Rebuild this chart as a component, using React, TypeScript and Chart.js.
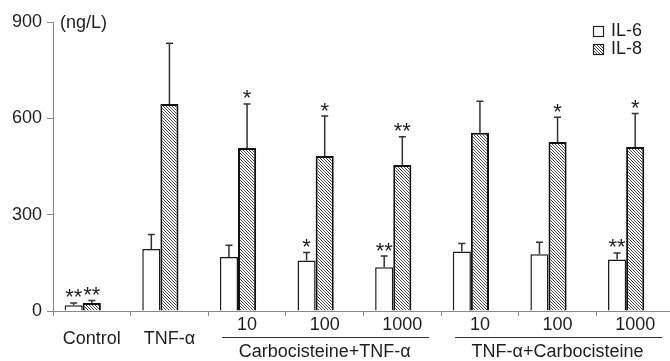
import React, { useEffect, useRef } from 'react';
import { Chart, registerables } from 'chart.js';
Chart.register(...registerables);

const categories = ['Control', 'TNF-α', '10', '100', '1000', '10', '100', '1000'];
const il6 = [18, 193, 168, 157, 136, 185, 177, 160];
const il6Err = [7, 45, 37, 25, 35, 25, 37, 21];
const il8 = [25, 645, 508, 483, 455, 555, 526, 511];
const il8Err = [8, 189, 137, 124, 88, 98, 77, 104];
const il6Stars = ['**', '', '', '*', '**', '', '', '**'];
const il8Stars = ['**', '', '*', '*', '**', '', '*', '*'];
const groupLabels = ['Carbocisteine+TNF-α', 'TNF-α+Carbocisteine'];
const groupFrom = [2, 5];
const groupTo = [4, 7];
const seriesNames = ['IL-6', 'IL-8'];
const yTicks = [0, 300, 600, 900];
const unitLabel = '(ng/L)';

const FONT = '"Liberation Sans", Arial, sans-serif';
const INK = '#1e1e1e';

function makeHatch(ctx: CanvasRenderingContext2D): CanvasPattern | string {
  const s = 3;
  const c = document.createElement('canvas');
  c.width = s;
  c.height = s;
  const g = c.getContext('2d');
  if (!g) return '#888';
  g.fillStyle = '#fff';
  g.fillRect(0, 0, s, s);
  g.strokeStyle = '#333';
  g.lineWidth = 0.9;
  g.beginPath();
  g.moveTo(-1, -1);
  g.lineTo(s + 1, s + 1);
  g.moveTo(-1, s - 1);
  g.lineTo(1, s + 1);
  g.moveTo(s - 1, -1);
  g.lineTo(s + 1, 1);
  g.stroke();
  return ctx.createPattern(c, 'repeat') || '#888';
}

function drawStar(ctx: CanvasRenderingContext2D, text: string, x: number, cy: number) {
  ctx.font = `22px ${FONT}`;
  ctx.textAlign = 'center';
  ctx.textBaseline = 'alphabetic';
  const m = ctx.measureText(text);
  const asc = m.actualBoundingBoxAscent;
  const desc = m.actualBoundingBoxDescent;
  const y = cy - (desc - asc) / 2;
  ctx.fillText(text, x, y);
}

const overlay = {
  id: 'overlay',
  afterDatasetsDraw(chart: any) {
    const ctx: CanvasRenderingContext2D = chart.ctx;
    const yScale = chart.scales.y;
    const series = [
      { vals: il6, errs: il6Err, stars: il6Stars, meta: chart.getDatasetMeta(0) },
      { vals: il8, errs: il8Err, stars: il8Stars, meta: chart.getDatasetMeta(1) },
    ];
    ctx.save();
    ctx.strokeStyle = '#333';
    ctx.fillStyle = INK;
    ctx.lineWidth = 1.5;
    series.forEach((s) => {
      s.vals.forEach((v, i) => {
        const bar = s.meta.data[i];
        const x = bar.x;
        const yTop = yScale.getPixelForValue(v);
        const yErr = yScale.getPixelForValue(v + s.errs[i]);
        ctx.beginPath();
        ctx.moveTo(x, yTop);
        ctx.lineTo(x, yErr);
        ctx.moveTo(x - 3.5, yErr);
        ctx.lineTo(x + 3.5, yErr);
        ctx.stroke();
        if (s.stars[i]) drawStar(ctx, s.stars[i], x, yErr - 9.5);
      });
    });
    ctx.restore();
  },
  afterDraw(chart: any) {
    const ctx: CanvasRenderingContext2D = chart.ctx;
    const xScale = chart.scales.x;
    const area = chart.chartArea;
    ctx.save();
    ctx.fillStyle = INK;
    ctx.font = `18px ${FONT}`;
    ctx.textAlign = 'center';
    ctx.textBaseline = 'alphabetic';
    const half = (xScale.getPixelForValue(1) - xScale.getPixelForValue(0)) / 2;
    categories.forEach((c, i) => {
      const x = xScale.getPixelForValue(i);
      const isGrouped = groupFrom.some((f, g) => i >= f && i <= groupTo[g]);
      ctx.fillText(c, x, isGrouped ? 330 : 344);
    });
    ctx.strokeStyle = '#333';
    ctx.lineWidth = 1;
    groupLabels.forEach((g, k) => {
      const left = xScale.getPixelForValue(groupFrom[k]) - half + 14;
      const right = xScale.getPixelForValue(groupTo[k]) + half - 12;
      ctx.beginPath();
      ctx.moveTo(left, 337.5);
      ctx.lineTo(right, 337.5);
      ctx.stroke();
      ctx.fillText(g, (xScale.getPixelForValue(groupFrom[k]) + xScale.getPixelForValue(groupTo[k])) / 2, 356.5);
    });
    // unit label
    ctx.textAlign = 'left';
    ctx.textBaseline = 'middle';
    ctx.fillText(unitLabel, area.left + 7, area.top + 1);
    // legend
    const bx = 593;
    const boxes = [26, 44];
    const fills = [chart.data.datasets[0].backgroundColor, chart.data.datasets[1].backgroundColor];
    seriesNames.forEach((n, k) => {
      ctx.fillStyle = fills[k];
      ctx.fillRect(bx, boxes[k], 10, 10);
      ctx.strokeStyle = '#222';
      ctx.lineWidth = 1.2;
      ctx.strokeRect(bx + 0.5, boxes[k] + 0.5, 10, 10);
      ctx.fillStyle = INK;
      ctx.font = `18px ${FONT}`;
      ctx.textAlign = 'left';
      ctx.textBaseline = 'middle';
      ctx.fillText(n, 611, boxes[k] + 5.5);
    });
    ctx.restore();
  },
};

export default function App() {
  const ref = useRef<HTMLCanvasElement | null>(null);
  useEffect(() => {
    const canvas = ref.current;
    if (!canvas) return;
    const ctx = canvas.getContext('2d');
    if (!ctx) return;
    const hatch = makeHatch(ctx);
    const chart = new Chart(canvas, {
      type: 'bar',
      data: {
        labels: categories,
        datasets: [
          { label: seriesNames[0], data: il6, backgroundColor: '#fff', borderColor: '#1a1a1a', borderWidth: 1.5 },
          { label: seriesNames[1], data: il8, backgroundColor: hatch as any, borderColor: '#111', borderWidth: 2 },
          { label: '', data: categories.map(() => null), backgroundColor: 'transparent' },
        ],
      },
      options: {
        responsive: false,
        animation: false,
        devicePixelRatio: 1,
        layout: { padding: { top: 22, right: 0, left: 0, bottom: 0 } },
        datasets: { bar: { categoryPercentage: 0.7, barPercentage: 1.0 } },
        plugins: { legend: { display: false }, tooltip: { enabled: false } },
        scales: {
          x: {
            grid: { display: true, drawOnChartArea: false, drawTicks: true, tickLength: 5, color: '#888', offset: true },
            border: { display: true, color: '#888', width: 1 },
            ticks: { display: false },
            afterFit: (s: any) => { s.height = 50; },
          },
          y: {
            min: 0,
            max: 900,
            afterBuildTicks: (s: any) => { s.ticks = yTicks.map((v) => ({ value: v })); },
            grid: { display: true, drawOnChartArea: false, drawTicks: true, tickLength: 6, color: '#888' },
            border: { display: true, color: '#888', width: 1 },
            ticks: { font: { size: 18, family: FONT }, color: INK, padding: 5 },
            afterFit: (s: any) => { s.width = 53; },
          },
        },
      },
      plugins: [overlay],
    });
    return () => chart.destroy();
  }, []);
  return (
    <div style={{ position: 'fixed', left: 0, top: 0, width: 670, height: 361, overflow: 'hidden', background: '#fff' }}>
      <canvas ref={ref} width={674} height={361} style={{ display: 'block', width: 674, height: 361 }} />
    </div>
  );
}
